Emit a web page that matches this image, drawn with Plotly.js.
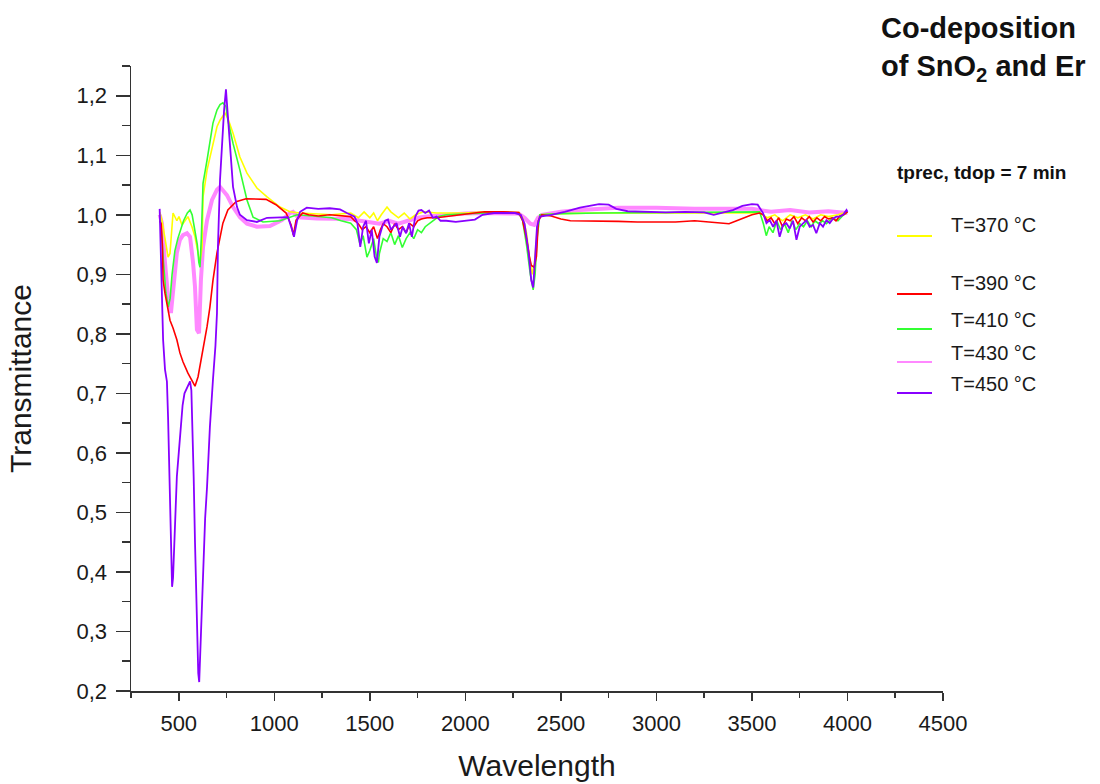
<!DOCTYPE html>
<html>
<head>
<meta charset="utf-8">
<script src="https://cdn.plot.ly/plotly-3.0.1.min.js"></script>
<style>html,body{margin:0;padding:0;background:#fff;}</style>
</head>
<body>
<div id="chart" style="width:1100px;height:784px;"></div>
<script>
// ---------- DATA ----------
const seriesNames = ["T=370 °C", "T=390 °C", "T=410 °C", "T=430 °C", "T=450 °C"];
const chartTitleLines = ["Co-deposition", "of SnO<sub>2</sub> and Er"];
const legendHeader = "tprec, tdop = 7 min";
const xAxisTitle = "Wavelength";
const yAxisTitle = "Transmittance";

// T=370 °C
const wl370 = [400,412,428,444,454,465,470,490,501,517,
  533,548,569,585,601,611,622,627,648,674,
  700,716,731,742,757,784,820,857,909,962,
  1030,1082,1135,1200,1300,1400,1440,1470,1500,1520,
  1540,1560,1590,1610,1630,1650,1680,1710,1740,1780,
  1850,2000,2100,2280,2300,2320,2335,2350,2362,2375,
  2390,2500,2700,3000,3300,3500,3540,3580,3620,3660,
  3700,3740,3780,3820,3860,3900,3950,4000];
const t370 = [1.005,0.99,0.96,0.929,0.935,0.975,1.003,0.99,0.997,0.983,
  0.99,0.997,0.98,0.963,0.936,0.919,0.946,1.03,1.075,1.114,
  1.148,1.159,1.165,1.171,1.162,1.137,1.097,1.07,1.045,1.03,
  1.013,1.005,1.003,1.002,1.0,1.003,0.995,1.005,0.995,1.003,
  0.99,1.0,1.013,1.005,1.0,0.995,1.003,0.993,1.0,1.005,
  1.003,1.003,1.005,1.004,0.995,0.97,0.93,0.9,0.92,0.97,
  1.0,1.002,1.003,1.003,1.002,1.003,1.003,0.995,1.0,0.99,
  1.0,0.995,1.0,0.993,1.0,0.997,1.0,1.005];

// T=390 °C
const wl390 = [400,408,414,418,428,440,454,470,490,506,
  522,548,569,585,601,611,627,648,663,679,
  700,716,731,757,800,852,900,957,1009,1062,
  1088,1100,1114,1149,1180,1230,1290,1350,1400,1420,
  1440,1460,1480,1500,1520,1540,1555,1570,1590,1610,
  1630,1650,1670,1690,1710,1730,1750,1770,1800,1850,
  1900,1950,2000,2060,2100,2200,2280,2300,2320,2335,
  2345,2360,2372,2382,2400,2450,2500,2550,2600,2700,
  2800,2900,3000,3100,3200,3280,3330,3380,3420,3460,
  3500,3540,3560,3580,3600,3620,3640,3660,3680,3700,
  3720,3740,3760,3780,3800,3820,3840,3860,3880,3900,
  3920,3940,3960,3980,4000];
const t390 = [0.99,0.985,0.95,0.89,0.868,0.845,0.823,0.81,0.79,0.768,
  0.753,0.734,0.722,0.712,0.728,0.745,0.778,0.812,0.845,0.89,
  0.936,0.963,0.986,1.008,1.022,1.027,1.027,1.026,1.017,1.003,
  0.983,0.966,0.991,1.003,1.0,0.998,1.0,0.998,0.997,0.99,
  0.985,0.975,0.98,0.97,0.98,0.96,0.975,0.985,0.98,0.97,
  0.985,0.975,0.98,0.97,0.985,0.98,0.99,0.993,0.995,0.995,
  0.997,0.998,1.0,1.003,1.005,1.005,1.004,0.99,0.96,0.93,
  0.915,0.912,0.93,0.99,1.0,0.998,0.993,0.99,0.99,0.99,
  0.989,0.988,0.988,0.988,0.99,0.988,0.986,0.985,0.99,0.995,
  1.0,1.003,1.0,0.99,0.995,0.985,0.995,0.98,0.993,0.99,
  0.997,0.985,0.995,0.99,0.997,0.988,0.995,0.99,0.997,0.993,
  0.995,0.99,0.998,1.0,1.005];

// T=410 °C
const wl410 = [400,410,420,432,445,455,465,480,495,510,
  525,545,559,570,585,597,605,611,618,627,
  648,663,679,700,716,731,747,757,784,820,
  857,889,941,1030,1119,1200,1300,1350,1400,1430,
  1449,1465,1485,1500,1520,1537,1545,1550,1570,1590,
  1610,1630,1650,1670,1690,1710,1730,1750,1770,1790,
  1810,1830,1860,1900,2000,2100,2200,2280,2300,2320,
  2340,2355,2365,2375,2390,2500,2700,3000,3200,3400,
  3540,3560,3575,3590,3610,3630,3650,3670,3690,3710,
  3730,3750,3770,3790,3810,3830,3850,3870,3890,3920,
  3950,3980,4000];
const t410 = [1.0,0.97,0.92,0.87,0.845,0.86,0.9,0.94,0.96,0.975,
  0.99,1.003,1.008,1.0,0.975,0.95,0.92,0.912,0.96,1.053,
  1.092,1.12,1.154,1.176,1.185,1.188,1.182,1.159,1.12,1.075,
  1.025,0.996,0.988,0.99,1.0,0.998,0.995,0.99,0.986,0.975,
  0.95,0.965,0.929,0.94,0.96,0.925,0.92,0.935,0.96,0.955,
  0.97,0.95,0.965,0.945,0.96,0.97,0.96,0.975,0.97,0.98,
  0.985,0.99,0.997,1.0,1.002,1.003,1.004,1.003,0.99,0.95,
  0.9,0.874,0.9,0.96,1.0,1.002,1.003,1.004,1.005,1.005,
  1.005,0.985,0.965,0.98,0.97,0.99,0.975,0.985,0.97,0.99,
  0.975,0.985,0.98,0.99,0.98,0.99,0.985,0.99,0.985,0.995,
  0.99,1.0,1.005];

// T=430 °C
const wl430 = [400,412,428,444,459,470,490,506,522,543,
  559,575,585,595,606,616,627,648,674,700,
  716,752,784,820,857,909,977,1040,1082,1098,
  1124,1223,1307,1400,1450,1500,1550,1600,1650,1700,
  1750,1800,1900,2000,2100,2200,2280,2310,2340,2360,
  2380,2400,2500,2600,2700,2800,3000,3200,3400,3500,
  3600,3700,3800,3900,4000];
const t430 = [1.0,0.986,0.919,0.862,0.835,0.874,0.936,0.958,0.966,0.969,
  0.963,0.919,0.879,0.807,0.801,0.891,0.946,0.991,1.025,1.042,
  1.047,1.033,1.013,0.996,0.985,0.98,0.981,0.991,1.003,1.005,
  0.996,0.994,0.994,0.993,0.99,0.988,0.985,0.99,0.985,0.99,
  0.995,0.997,1.0,1.002,1.003,1.003,1.002,0.995,0.985,0.983,
  0.995,1.0,1.005,1.008,1.01,1.012,1.012,1.01,1.01,1.01,
  1.005,1.008,1.004,1.006,1.003];

// T=450 °C
const wl450 = [400,404,410,418,428,438,444,450,456,461,
  465,470,475,480,490,500,510,520,530,545,
  559,566,572,578,585,595,602,607,612,618,
  627,638,648,663,679,692,700,705,716,726,
  737,742,747,752,760,768,784,805,820,857,
  909,962,1030,1072,1093,1103,1119,1135,1170,1230,
  1290,1344,1380,1400,1420,1435,1450,1465,1480,1495,
  1510,1525,1537,1550,1565,1580,1595,1610,1625,1640,
  1658,1672,1690,1705,1720,1738,1755,1770,1790,1810,
  1830,1850,1870,1900,1950,2000,2050,2090,2150,2200,
  2260,2290,2310,2330,2345,2355,2365,2375,2390,2450,
  2520,2600,2650,2700,2750,2790,2850,2950,3050,3150,
  3250,3300,3350,3400,3450,3500,3530,3558,3576,3593,
  3611,3628,3645,3663,3680,3698,3715,3733,3750,3767,
  3785,3802,3820,3837,3855,3872,3890,3907,3925,3942,
  3960,3977,3995,4000];
const t450 = [1.01,0.96,0.87,0.79,0.74,0.72,0.66,0.58,0.50,0.43,
  0.375,0.39,0.43,0.48,0.56,0.60,0.635,0.68,0.70,0.712,
  0.72,0.705,0.65,0.56,0.45,0.29,0.23,0.215,0.26,0.32,
  0.425,0.49,0.543,0.644,0.723,0.78,0.835,0.946,1.059,1.121,
  1.175,1.193,1.211,1.188,1.15,1.114,1.047,1.013,1.0,0.991,
  0.988,0.995,0.996,0.996,0.975,0.963,0.99,1.005,1.012,1.010,
  1.011,1.009,1.003,1.0,0.997,0.986,0.946,0.98,0.99,0.952,
  0.975,0.93,0.919,0.963,0.98,0.99,0.992,0.975,0.98,0.986,
  0.963,0.98,0.969,0.986,0.963,0.997,1.007,1.008,1.003,1.007,
  0.995,0.997,0.99,0.99,0.988,0.99,0.992,1.0,1.003,1.003,
  1.003,1.0,0.985,0.94,0.89,0.878,0.93,0.98,0.997,1.0,
  1.005,1.012,1.015,1.018,1.017,1.01,1.006,1.005,1.004,1.005,
  1.004,1.0,1.004,1.008,1.015,1.018,1.017,1.003,0.986,0.991,
  0.98,0.99,0.963,0.983,0.986,0.977,0.99,0.958,0.98,0.986,
  0.991,0.98,0.983,0.969,0.986,0.98,0.991,0.986,0.994,0.997,
  0.997,1.0,1.008,1.005];

// ---------- STYLE / LAYOUT ----------
const colors = ["#ffff00", "#ff0000", "#33ff33", "#ff88ff", "#8800ff"];
const widths = [1.6, 1.6, 1.6, 4, 1.8];
const seriesX = [wl370, wl390, wl410, wl430, wl450];
const seriesY = [t370, t390, t410, t430, t450];
const drawOrder = [3, 0, 2, 1, 4];

const traces = drawOrder.map(i => ({
  type: "scatter", mode: "lines", name: seriesNames[i],
  x: seriesX[i], y: seriesY[i],
  line: {color: colors[i], width: widths[i]},
  showlegend: false, hoverinfo: "x+y+name"
}));

const L = 131, R = 943, T = 66, B = 691;
const PX = p => (p - L) / (R - L);
const PY = p => (B - p) / (B - T);
const FONT = "Liberation Sans, Arial, sans-serif";
const ink = "#1a1a1a";

const legLineY = [236, 294, 329, 362, 393];
const legTextY = [225, 283, 320, 353, 384];

const annotations = [
  {xref: "paper", yref: "paper", x: PX(879), y: PY(10), xanchor: "left", yanchor: "top",
   align: "left", showarrow: false, text: "<b>" + chartTitleLines.join("<br>") + "</b>",
   font: {family: FONT, size: 29, color: "#111"}},
  {xref: "paper", yref: "paper", x: PX(895), y: PY(172), xanchor: "left", yanchor: "middle",
   showarrow: false, text: "<b>" + legendHeader + "</b>",
   font: {family: FONT, size: 19, color: "#111"}}
];
const shapes = [];
seriesNames.forEach((n, i) => {
  annotations.push({xref: "paper", yref: "paper", x: PX(949), y: PY(legTextY[i]),
    xanchor: "left", yanchor: "middle", showarrow: false, text: n,
    font: {family: FONT, size: 20, color: ink}});
  shapes.push({type: "line", xref: "paper", yref: "paper",
    x0: PX(897), x1: PX(932), y0: PY(legLineY[i]), y1: PY(legLineY[i]),
    line: {color: colors[i], width: 2}});
});

const layout = {
  width: 1100, height: 784,
  margin: {l: L, r: 1100 - R, t: T, b: 784 - B, pad: 0},
  paper_bgcolor: "#fff", plot_bgcolor: "#fff",
  separators: ", ",
  font: {family: FONT, color: ink},
  showlegend: false,
  xaxis: {
    range: [250, 4500], tickmode: "linear", tick0: 0, dtick: 500,
    ticks: "outside", ticklen: 8, tickwidth: 1.5, tickcolor: "#333",
    showline: true, linecolor: "#333", linewidth: 1.5,
    showgrid: false, zeroline: false, automargin: false,
    minor: {ticks: "outside", ticklen: 5, tickwidth: 1.5, tickcolor: "#333", tick0: 0, dtick: 250, showgrid: false},
    tickfont: {family: FONT, size: 22, color: ink},
    ticklabelstandoff: 4,
    title: {text: xAxisTitle, font: {family: FONT, size: 30, color: ink}, standoff: 20}
  },
  yaxis: {
    range: [0.2, 1.25], tickmode: "linear", tick0: 0.2, dtick: 0.1, tickformat: ".1f",
    ticks: "outside", ticklen: 14, tickwidth: 1.5, tickcolor: "#333",
    showline: true, linecolor: "#333", linewidth: 1.5,
    showgrid: false, zeroline: false, automargin: false,
    minor: {ticks: "outside", ticklen: 8, tickwidth: 1.5, tickcolor: "#333", tick0: 0.2, dtick: 0.05, showgrid: false},
    tickfont: {family: FONT, size: 22, color: ink},
    ticklabelstandoff: 4,
    title: {text: yAxisTitle, font: {family: FONT, size: 30, color: ink}, standoff: 36}
  },
  annotations: annotations,
  shapes: shapes
};

Plotly.newPlot("chart", traces, layout, {displayModeBar: false, staticPlot: true});
</script>
</body>
</html>
